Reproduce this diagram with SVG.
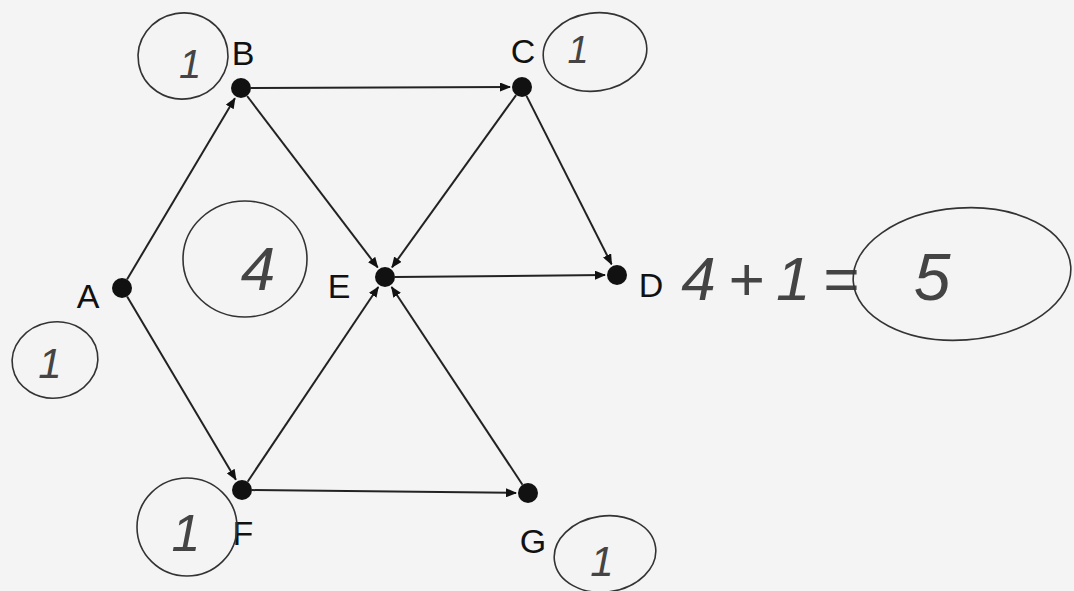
<svg xmlns="http://www.w3.org/2000/svg" width="1074" height="591" viewBox="0 0 1074 591">
<style>
.dot{fill:#111}
.lbl{font-family:"Liberation Sans",Arial,sans-serif;font-size:34px;fill:#111;text-anchor:middle}
.edge{stroke:#222;stroke-width:2;fill:none}
.hand{stroke:#333;stroke-width:1.6;fill:none}
.ht{font-family:"Liberation Sans",Arial,sans-serif;font-style:italic;fill:#444;text-anchor:middle}
</style>
<defs>
<marker id="arr" markerUnits="userSpaceOnUse" markerWidth="11" markerHeight="9" refX="10" refY="4.5" orient="auto">
<path d="M0,0 L11,4.5 L0,9 z" fill="#111"/>
</marker>
</defs>
<rect width="1074" height="591" fill="#f4f4f4"/>
<g id="connectors">
<line class="edge" x1="127" y1="279.4" x2="234.9" y2="98.3" marker-end="url(#arr)"/>
<line class="edge" x1="127.1" y1="296.6" x2="235.9" y2="479.7" marker-end="url(#arr)"/>
<line class="edge" x1="251" y1="88" x2="510" y2="87" marker-end="url(#arr)"/>
<line class="edge" x1="247.1" y1="96" x2="377.7" y2="267.5" marker-end="url(#arr)"/>
<line class="edge" x1="516.1" y1="95.1" x2="392" y2="267.3" marker-end="url(#arr)"/>
<line class="edge" x1="526.5" y1="95.9" x2="611.6" y2="264.3" marker-end="url(#arr)"/>
<line class="edge" x1="395" y1="277" x2="605" y2="275.1" marker-end="url(#arr)"/>
<line class="edge" x1="247.6" y1="481.7" x2="378.3" y2="287" marker-end="url(#arr)"/>
<line class="edge" x1="252" y1="490.1" x2="516" y2="492.9" marker-end="url(#arr)"/>
<line class="edge" x1="522.5" y1="484.7" x2="391.6" y2="287" marker-end="url(#arr)"/>
</g>
<g id="node-A"><circle class="dot" cx="122" cy="288" r="10"/><text class="lbl" x="88" y="308">A</text></g>
<g id="node-B"><circle class="dot" cx="241" cy="88" r="10"/><text class="lbl" x="243" y="65">B</text></g>
<g id="node-C"><circle class="dot" cx="522" cy="87" r="10"/><text class="lbl" x="523" y="63">C</text></g>
<g id="node-D"><circle class="dot" cx="617" cy="275" r="10"/><text class="lbl" x="651" y="297">D</text></g>
<g id="node-E"><circle class="dot" cx="385" cy="277" r="10"/><text class="lbl" x="339" y="298">E</text></g>
<g id="node-F"><circle class="dot" cx="242" cy="490" r="10"/><text class="lbl" x="243" y="545">F</text></g>
<g id="node-G"><circle class="dot" cx="528" cy="493" r="10"/><text class="lbl" x="533" y="553">G</text></g>
<g id="annotations">
<ellipse class="hand" cx="183" cy="56" rx="45" ry="43" transform="rotate(-10 183 56)"/>
<text class="ht" x="190" y="78" font-size="40">1</text>
<ellipse class="hand" cx="595" cy="52" rx="52" ry="39" transform="rotate(-8 595 52)"/>
<text class="ht" x="578" y="63" font-size="38">1</text>
<ellipse class="hand" cx="245" cy="259" rx="62" ry="58"/>
<text class="ht" x="258" y="290" font-size="62">4</text>
<ellipse class="hand" cx="55" cy="360" rx="43" ry="38" transform="rotate(-10 55 360)"/>
<text class="ht" x="50" y="378" font-size="42">1</text>
<ellipse class="hand" cx="187" cy="527" rx="50" ry="49"/>
<text class="ht" x="186" y="551" font-size="52">1</text>
<ellipse class="hand" cx="605" cy="554" rx="51" ry="38" transform="rotate(-8 605 554)"/>
<text class="ht" x="602" y="576" font-size="42">1</text>
<text class="ht" x="776" y="300" font-size="62" letter-spacing="12">4+1=</text>
<ellipse class="hand" cx="962" cy="274" rx="109" ry="66" transform="rotate(-4 962 274)"/>
<text class="ht" x="932" y="300" font-size="66">5</text>
</g>
</svg>
